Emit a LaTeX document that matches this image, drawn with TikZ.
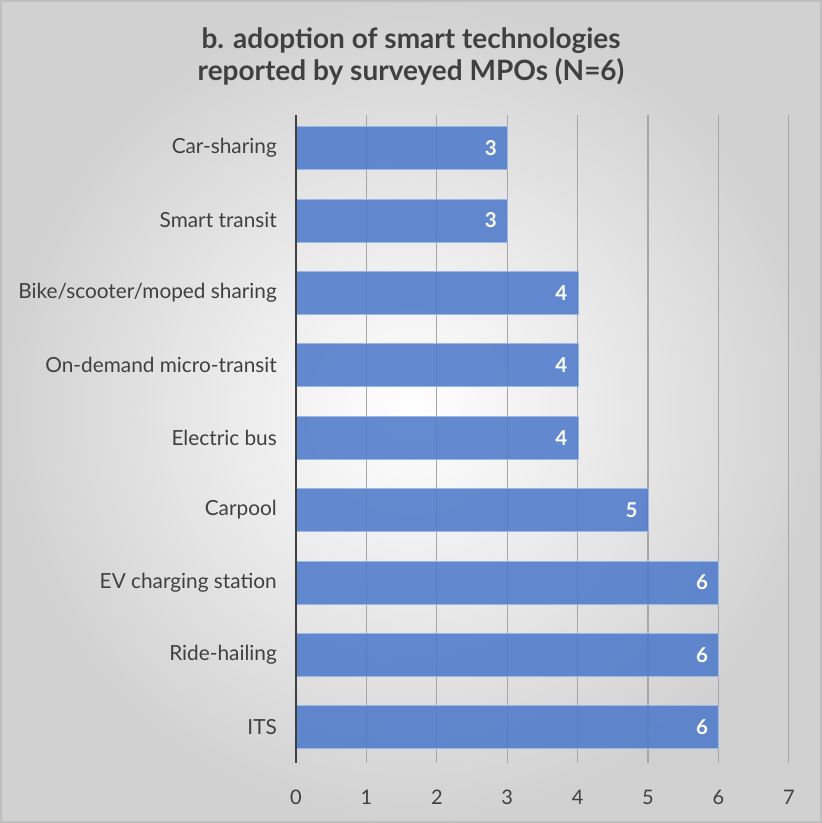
\documentclass[tikz,border=0pt]{standalone}
\usepackage{fontspec}
\setmainfont{Lato}
\usetikzlibrary{positioning}

\definecolor{barblue}{HTML}{4F7BCB}
\definecolor{txtgrey}{HTML}{404040}
\definecolor{gridgrey}{HTML}{A6A6A6}

\tikzset{
  bar/.style={draw=barblue!55!white, line width=0.8pt, fill=barblue, fill opacity=0.88,
    minimum height=43pt, inner sep=0pt, anchor=west},
  catlabel/.style={text=txtgrey, font=\fontsize{20.8}{24}\selectfont, anchor=east, inner sep=0pt},
  vallabel/.style={text=white, font=\bfseries\fontsize{20.5}{24}\selectfont, anchor=east, inner sep=0pt},
  ticklabel/.style={text=txtgrey, font=\fontsize{20}{24}\selectfont, inner sep=0pt},
}

\begin{document}
\begin{tikzpicture}[x=1pt,y=-1pt]
  % background and frame
  \shade[inner color=white, outer color=black!18] (0,0) rectangle (822,823);
  \draw[black!25, line width=2pt] (1,1) rectangle (821,822);
  \useasboundingbox (0,0) rectangle (822,823);

  % title
  \node[text=txtgrey, font=\bfseries\fontsize{28}{32}\selectfont, align=center] (title) at (411,56)
    {b. adoption of smart technologies\\reported by surveyed MPOs (N=6)};

  % gridlines and tick labels
  \foreach \k in {1,...,7} {
    \draw[gridgrey, line width=1.3pt] (296+70.4*\k,115) -- (296+70.4*\k,763);
  }
  \foreach \k in {0,...,7} {
    \node[ticklabel] (tick\k) at (296+70.4*\k,797) {\k};
  }

  % bars
  \foreach \name/\v [count=\i from 0] in {Car-sharing/3, Smart transit/3,
      {Bike/scooter/moped sharing}/4, On-demand micro-transit/4, Electric bus/4,
      Carpool/5, EV charging station/6, Ride-hailing/6, ITS/6} {
    \pgfmathsetmacro{\w}{70.4*\v}
    \node[bar, minimum width=\w pt] (bar\i) at (296,148+72.4*\i) {};
    \node[vallabel] (val\i) at ([xshift=-11pt]bar\i.east) {\v};
    \node[catlabel] (cat\i) at ([xshift=-19pt]bar\i.west) {\name};
  }

  % value axis line
  \draw[txtgrey, line width=2.6pt] (296,115) -- (296,763);
\end{tikzpicture}
\end{document}
